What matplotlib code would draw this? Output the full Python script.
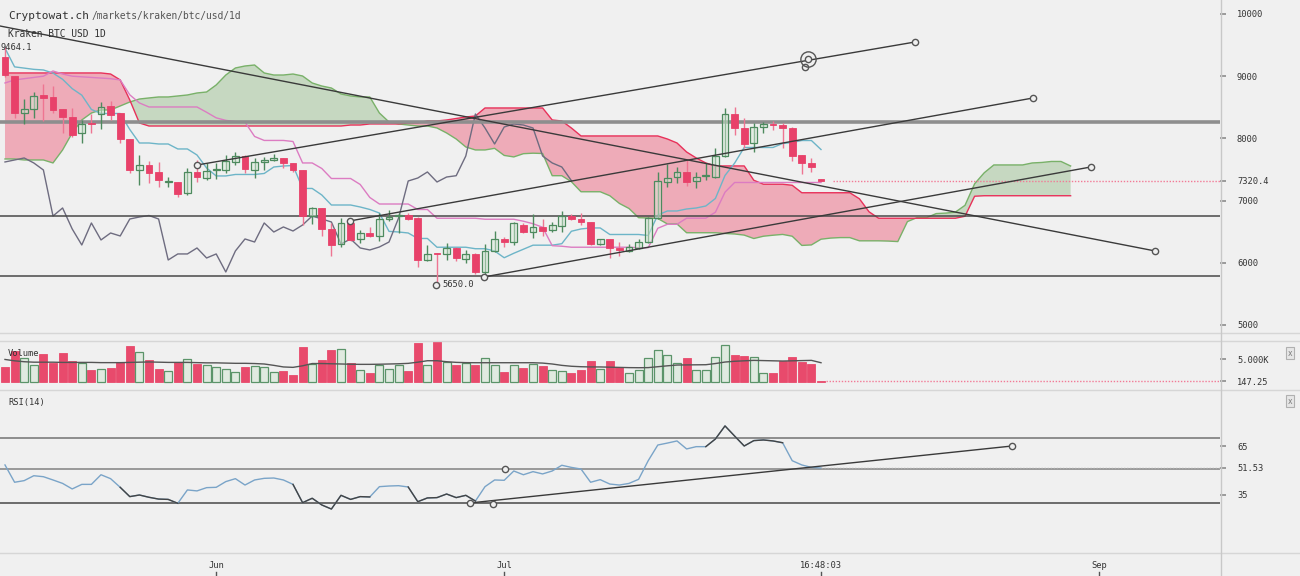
import numpy as np
import matplotlib
matplotlib.use("Agg")
import matplotlib.pyplot as plt
from matplotlib.lines import Line2D

# ---- values; x axis = days since 10 May ----
open_ = [9309, 9003, 8408, 8473, 8698, 8666, 8473, 8344, 8087, 8240,
         8392, 8521, 8408, 7990, 7492, 7572, 7460, 7299, 7299, 7122,
         7460, 7363, 7485, 7492, 7621, 7717, 7492, 7621, 7653, 7685,
         7605, 7492, 6752, 6881, 6544, 6302, 6640, 6383, 6479, 6431,
         6704, 6745, 6769, 6720, 6045, 6158, 6142, 6238, 6061, 6142,
         5852, 6190, 6383, 6334, 6608, 6495, 6576, 6527, 6592, 6752,
         6704, 6656, 6302, 6383, 6238, 6190, 6238, 6334, 6720, 7299,
         7379, 7460, 7315, 7390, 7379, 7717, 8392, 8167, 7926, 8183,
         8232, 8215, 8167, 7733, 7605, 7345]
high = [9464.1, 9003, 8633, 8746, 8875, 8842, 8473, 8489, 8296, 8392,
        8585, 8601, 8408, 7990, 7733, 7637, 7621, 7379, 7299, 7524,
        7653, 7605, 7605, 7733, 7781, 7733, 7685, 7701, 7749, 7685,
        7605, 7492, 6900, 6881, 6640, 6720, 6660, 6527, 6576, 6801,
        6849, 6801, 6801, 6730, 6286, 6165, 6318, 6254, 6206, 6150,
        6302, 6511, 6415, 6656, 6640, 6785, 6704, 6656, 6833, 6785,
        6801, 6656, 6390, 6390, 6334, 6302, 6383, 6736, 7460, 7588,
        7540, 7653, 7460, 7605, 7846, 8489, 8505, 8328, 8248, 8264,
        8280, 8248, 8180, 7740, 7685, 7345]
low = [8987, 8328, 8232, 8328, 8280, 8408, 8087, 8023, 7926, 8087,
       8151, 8296, 7926, 7444, 7251, 7283, 7219, 7219, 7058, 7090,
       7299, 7331, 7347, 7444, 7572, 7444, 7363, 7492, 7637, 7524,
       7460, 6608, 6624, 6431, 6109, 6254, 6350, 6318, 6415, 6350,
       6672, 6479, 6688, 5933, 6030, 5650, 6045, 6029, 5997, 5820,
       5780, 6180, 6254, 6286, 6479, 6399, 6431, 6495, 6495, 6688,
       6608, 6286, 6286, 6077, 6109, 6174, 6222, 6318, 6700, 7219,
       7283, 7235, 7203, 7331, 7363, 7701, 8055, 7846, 7781, 8087,
       8135, 7846, 7637, 7428, 7460, 7315]
close = [9019, 8408, 8473, 8682, 8650, 8457, 8344, 8055, 8232, 8225,
         8505, 8376, 7990, 7492, 7572, 7444, 7331, 7315, 7106, 7460,
         7379, 7476, 7495, 7637, 7717, 7508, 7621, 7653, 7685, 7605,
         7492, 6752, 6881, 6544, 6286, 6640, 6367, 6479, 6431, 6704,
         6736, 6760, 6704, 6045, 6142, 6142, 6238, 6077, 6142, 5852,
         6190, 6383, 6334, 6640, 6495, 6576, 6511, 6608, 6752, 6704,
         6656, 6302, 6383, 6238, 6206, 6254, 6334, 6720, 7315, 7363,
         7460, 7299, 7379, 7400, 7717, 8392, 8167, 7910, 8183, 8232,
         8215, 8167, 7717, 7605, 7540, 7320.4]

tenkan = [9450, 9150, 9130, 9110, 9100, 9050, 8950, 8800, 8695, 8465,
          8400, 8400, 8400, 8143, 7926, 7926, 7910, 7910, 7830, 7830,
          7733, 7524, 7396, 7396, 7420, 7420, 7420, 7436, 7540, 7556,
          7564, 7195, 7195, 7090, 6929, 6929, 6929, 6897, 6857, 6800,
          6505, 6495, 6479, 6391, 6391, 6250, 6250, 6250, 6250, 6226,
          6226, 6190, 6081, 6153, 6218, 6283, 6283, 6283, 6307, 6507,
          6544, 6560, 6560, 6455, 6455, 6455, 6455, 6439, 6769, 6833,
          6833, 6865, 6881, 6913, 7034, 7404, 7602, 7854, 7854, 7854,
          7854, 7918, 7934, 7966, 7966, 7821]
kijun = [8891, 8940, 8960, 8980, 9000, 9084, 9035, 9000, 8990, 8980,
         8970, 8960, 8940, 8700, 8570, 8505, 8505, 8505, 8505, 8505,
         8505, 8420, 8330, 8290, 8270, 8261, 8031, 7967, 7967, 7967,
         7950, 7605, 7605, 7516, 7355, 7355, 7355, 7259, 7050, 6945,
         6945, 6945, 6945, 6857, 6857, 6716, 6716, 6716, 6716, 6716,
         6700, 6700, 6700, 6700, 6668, 6628, 6571, 6275, 6266, 6250,
         6250, 6250, 6250, 6250, 6250, 6250, 6242, 6242, 6555, 6619,
         6619, 6717, 6717, 6717, 6813, 7135, 7291, 7291, 7291, 7291,
         7291, 7291, 7291, 7291, 7291, 7291]

# leading spans, shifted 26 days ahead (112 points)
span_a = [7669, 7669, 7653, 7653, 7653, 7605, 7814, 8087, 8296, 8408,
          8457, 8457, 8521, 8585, 8633, 8650, 8666, 8666, 8682, 8698,
          8730, 8746, 8859, 9019, 9132, 9164, 9180, 9052, 9019, 9019,
          9035, 9003, 8891, 8842, 8810, 8714, 8682, 8666, 8666, 8408,
          8264, 8232, 8215, 8199, 8199, 8167, 8087, 7990, 7862, 7814,
          7814, 7840, 7726, 7702, 7754, 7762, 7757, 7400, 7400, 7303,
          7142, 7142, 7142, 7078, 6954, 6873, 6725, 6720, 6712, 6624,
          6624, 6483, 6483, 6483, 6483, 6471, 6463, 6445, 6390, 6427,
          6443, 6456, 6427, 6279, 6287, 6379, 6397, 6405, 6405, 6353,
          6353, 6353, 6349, 6341, 6662, 6726, 6726, 6791, 6799, 6815,
          6924, 7270, 7447, 7573, 7573, 7573, 7573, 7605, 7613, 7629,
          7629, 7556]
span_b = [9052, 9052, 9052, 9052, 9052, 9052, 9052, 9052, 9052, 9052,
          9052, 9035, 8940, 8617, 8248, 8199, 8199, 8199, 8199, 8199,
          8199, 8199, 8199, 8199, 8199, 8199, 8199, 8199, 8199, 8199,
          8199, 8199, 8199, 8199, 8199, 8199, 8215, 8215, 8232, 8232,
          8232, 8232, 8248, 8248, 8280, 8280, 8296, 8320, 8344, 8360,
          8489, 8489, 8489, 8489, 8489, 8489, 8489, 8296, 8280, 8167,
          8039, 8039, 8039, 8039, 8039, 8039, 8039, 8039, 8039, 7990,
          7926, 7781, 7685, 7605, 7557, 7557, 7557, 7557, 7327, 7263,
          7263, 7263, 7246, 7126, 7126, 7126, 7126, 7126, 7126, 7029,
          6820, 6716, 6716, 6716, 6716, 6716, 6716, 6716, 6716, 6716,
          6748, 7070, 7078, 7078, 7078, 7078, 7078, 7078, 7078, 7078,
          7078, 7078]

volume = [3230, 6830, 5140, 3600, 6090, 4110, 6240, 4550, 4040, 2500,
          2790, 3010, 4260, 7850, 6530, 4770, 2720, 2280, 4330, 4920,
          3960, 3600, 3160, 2720, 2130, 3230, 3520, 3160, 2130, 2350,
          1540, 7630, 3890, 4770, 7050, 7120, 4040, 2500, 1835, 3740,
          2790, 3740, 2350, 8510, 3740, 9030, 4330, 3600, 4110, 3740,
          5140, 3670, 2130, 3740, 3010, 3890, 3380, 2500, 2280, 1910,
          2500, 4480, 2720, 4480, 3160, 1835, 2500, 5280, 6970, 5950,
          4180, 5280, 2570, 2570, 5500, 8070, 5800, 5650, 5500, 1980,
          1980, 4620, 5500, 4400, 3890, 147.25]
volume_ma = [4900, 4600, 4400, 4300, 4300, 4300, 4250, 4250, 4250, 4250,
             4200, 4200, 4200, 4250, 4300, 4350, 4300, 4250, 4250, 4250,
             4200, 4150, 4150, 4100, 4050, 4050, 4000, 3900, 3600, 3250,
             3160, 3500, 4000, 4000, 3950, 3900, 3850, 3820, 3820, 3850,
             3900, 3950, 4040, 4300, 4620, 4620, 4400, 4260, 4200, 4180,
             4180, 4180, 4180, 4180, 4180, 4180, 4100, 3900, 3600, 3400,
             3300, 3250, 3250, 3200, 3150, 3100, 3080, 3100, 3300, 3500,
             3670, 3700, 3720, 3740, 4000, 4330, 4500, 4600, 4700, 4650,
             4600, 4550, 4600, 4650, 4700, 4180]

rsi = [53.4, 42.8, 43.8, 46.8, 46.2, 44.2, 42.1, 38.7, 41.5, 41.5,
       47.4, 45.0, 39.7, 34.0, 35.0, 33.6, 32.5, 32.3, 29.9, 38.1,
       37.5, 39.5, 39.7, 43.2, 45.0, 41.1, 44.2, 45.2, 45.4, 44.2,
       41.5, 30.3, 33.0, 28.9, 26.4, 34.8, 32.3, 34.0, 33.8, 40.1,
       40.5, 40.7, 39.9, 30.9, 33.2, 33.4, 35.6, 33.4, 34.8, 31.3,
       40.1, 44.2, 44.0, 49.7, 47.4, 49.3, 47.9, 49.7, 53.2, 51.9,
       50.9, 42.8, 44.4, 41.7, 41.1, 42.1, 44.6, 56.0, 65.6, 66.8,
       68.1, 63.2, 64.6, 64.6, 69.3, 77.3, 71.1, 65.0, 68.3, 68.7,
       68.1, 67.0, 56.0, 53.4, 51.9, 51.53]
rsi_dark = [(12, 18), (30, 38), (42, 49), (73, 81)]

# drawn tools
price_levels = [8264, 6752, 5780]
trend_lines = [((-0.52, 9807), (119.8, 6190)),
               ((20.0, 7572), (94.8, 9550)),
               ((35.9, 6672), (107.1, 8650)),
               ((49.9, 5772), (113.1, 7540))]
handles_x = [119.8, 20.0, 94.8, 35.9, 107.1, 44.9, 49.9, 113.1, 83.6, 83.3]
handles_y = [6190, 7572, 9550, 6672, 8650, 5650, 5772, 7540, 9277, 9148]
rsi_line = ((48.4, 30.1), (104.9, 65.0))
rsi_handles_x = [48.4, 50.8, 52.1, 104.9]
rsi_handles_y = [30.1, 29.5, 50.9, 65.0]

date_ticks = [22, 52, 85, 114]
date_labels = ["Jun", "Jul", "16:48:03", "Sep"]

# ---- drawing ----
BG = "#f0f0f0"
RED = "#e8416a"
PINK_DOT = "#f27a96"
GREEN = "#4d8a5e"
W, H = 1300, 576
XMAX = 126.56

plt.rcParams["font.family"] = "DejaVu Sans Mono"

o, h, l, c = map(np.array, (open_, high, low, close))
days = np.arange(len(close))
up = c >= o

fig = plt.figure(figsize=(13, 5.76), dpi=100, facecolor=BG)


def pane(top, bottom):
    a = fig.add_axes([0, 1 - bottom / H, 1220 / W, (bottom - top) / H])
    a.set_facecolor(BG)
    a.set_xlim(-0.52, XMAX)
    for s in a.spines.values():
        s.set_visible(False)
    a.set_xticks([])
    a.yaxis.tick_right()
    a.tick_params(axis="y", length=4.3, width=1.4, color="#9a9a9a", pad=7.9,
                  labelsize=6.3, labelcolor="#333333")
    return a


ax = pane(0, 333)
axv = pane(333, 390)
axr = pane(391, 553)

# price pane
ax.set_ylim(4871, 10225)
cd = np.arange(len(span_a))
sa, sb = np.array(span_a), np.array(span_b)
ax.fill_between(cd, sa, sb, where=sa >= sb, interpolate=True, color="#c6d8c1", lw=0, zorder=1)
ax.fill_between(cd, sa, sb, where=sa < sb, interpolate=True, color="#eeabb8", lw=0, zorder=1)
ax.plot(cd, sa, color="#79b169", lw=1, zorder=2)
ax.plot(cd, sb, color="#e8315a", lw=1, zorder=2)

ax.plot(days, tenkan, color="#6db5c8", lw=1, zorder=3)
ax.plot(days, kijun, color="#dc7cc2", lw=1, zorder=3)
ax.plot(days[:len(c) - 26], c[26:], color="#6e6c80", lw=1, zorder=3)

ax.axhline(price_levels[0], color="#8e8e8e", lw=2.6, zorder=3)
for lv in price_levels[1:]:
    ax.axhline(lv, color="#484848", lw=1.1, zorder=3)

ax.vlines(days[~up], l[~up], h[~up], color="#ee7592", lw=1, zorder=4)
ax.vlines(days[up], l[up], h[up], color=GREEN, lw=1, zorder=4)
body = np.maximum(np.abs(c - o), 22)
bottom = np.minimum(o, c)
ax.bar(days[~up], body[~up], bottom=bottom[~up], width=0.7, color=RED,
       edgecolor=RED, lw=0.6, zorder=5)
ax.bar(days[up], body[up], bottom=bottom[up], width=0.7, facecolor=(0.85, 0.92, 0.85, 0.5),
       edgecolor=GREEN, lw=0.9, zorder=5)

for (x0, y0), (x1, y1) in trend_lines:
    ax.plot([x0, x1], [y0, y1], color="#3a3a3a", lw=1, zorder=6)
ax.plot(handles_x, handles_y, "o", ms=4.5, mfc=BG, mec="#555555", mew=1, ls="none", zorder=7)
ax.plot(handles_x[8], handles_y[8], "o", ms=11, mfc="none", mec="#555555", mew=1, zorder=7)

ax.hlines(c[-1], days[-1] + 1.2, XMAX, colors=PINK_DOT, linestyles=(0, (1, 1.2)), lw=1, zorder=3)
ax.text(-0.52, h[0], "9464.1", ha="left", va="center", fontsize=6.3, color="#333333", zorder=8)
ax.text(45.6, 5650, "5650.0", ha="left", va="center", fontsize=6.3, color="#333333", zorder=8)

pt = [5000, 6000, 7000, c[-1], 8000, 9000, 10000]
ax.set_yticks(pt, labels=["5000", "6000", "7000", "7320.4", "8000", "9000", "10000"])
for t, v in zip(ax.yaxis.get_major_ticks(), pt):
    if v == c[-1]:
        t.tick2line.set_color(RED)

# volume pane
v = np.array(volume)
axv.set_ylim(-1828, 10727)
axv.bar(days[~up], v[~up], width=0.85, color="#e84a6c", edgecolor="#e84a6c", lw=0.6)
axv.bar(days[up], v[up], width=0.85, facecolor="#e0eae0", edgecolor="#5b9469", lw=0.9)
axv.plot(days, volume_ma, color="#555555", lw=1)
axv.hlines(v[-1], days[-1] + 0.5, XMAX, colors=PINK_DOT, linestyles=(0, (1, 1.2)), lw=1)
axv.set_yticks([v[-1], 5000], labels=["147.25", "5.000K"])
axv.yaxis.get_major_ticks()[0].tick2line.set_color(RED)
axv.text(8 / 1220, (390 - 354) / 57, "Volume", transform=axv.transAxes,
         fontsize=6.3, va="center", color="#333333")

# RSI pane
r = np.array(rsi)
axr.set_ylim(-0.52, 98.68)
axr.axhline(70, color="#7c7c7c", lw=1.2)
axr.axhline(51, color="#8a8a8a", lw=1.2)
axr.axhline(30, color="#555555", lw=1.2)
axr.plot(days, r, color="#7aa4c8", lw=1)
for s, e in rsi_dark:
    axr.plot(days[s:e + 1], r[s:e + 1], color="#444444", lw=1)
axr.hlines(r[-1], days[-1], XMAX, colors="#aaaaaa", linestyles=(0, (1, 1.2)), lw=1)
(x0, y0), (x1, y1) = rsi_line
axr.plot([x0, x1], [y0, y1], color="#3a3a3a", lw=1)
axr.plot(rsi_handles_x, rsi_handles_y, "o", ms=4.5, mfc=BG, mec="#555555", mew=1, ls="none")
axr.set_yticks([35, r[-1], 65], labels=["35", "51.53", "65"])
axr.text(8 / 1220, (553 - 402) / 162, "RSI(14)", transform=axr.transAxes,
         fontsize=6.3, va="center", color="#333333")

tr = axr.get_xaxis_transform()
for x, s in zip(date_ticks, date_labels):
    axr.text(x, -13 / 162, s, transform=tr, ha="center", va="center",
             fontsize=6.3, color="#333333", clip_on=False)
    axr.plot([x, x], [-0.117, -0.142], transform=tr, color="#555555", lw=1, clip_on=False)

# frame: pane separators, axis line, header text
for y in (333, 341, 389.5, 553):
    fig.add_artist(Line2D([0, 1], [1 - y / H] * 2, color="#d6d6d6", lw=1,
                          transform=fig.transFigure))
fig.add_artist(Line2D([1220.5 / W] * 2, [0, 1], color="#c8c8c8", lw=1,
                      transform=fig.transFigure))

fig.text(8 / W, 1 - 16 / H, "Cryptowat.ch", fontsize=8, color="#333333", va="center")
fig.text(92 / W, 1 - 16 / H, "/markets/kraken/btc/usd/1d", fontsize=6.9, color="#555555", va="center")
fig.text(8 / W, 1 - 34 / H, "Kraken BTC USD 1D", fontsize=6.9, color="#333333", va="center")
for y in (353, 401):
    fig.text(1290 / W, 1 - y / H, "x", fontsize=5.5, ha="center", va="center", color="#777777",
             bbox=dict(boxstyle="square,pad=0.25", fc="#e6e6e6", ec="#b0b0b0", lw=0.8))

fig.savefig("out.png", dpi=100, facecolor=BG)
